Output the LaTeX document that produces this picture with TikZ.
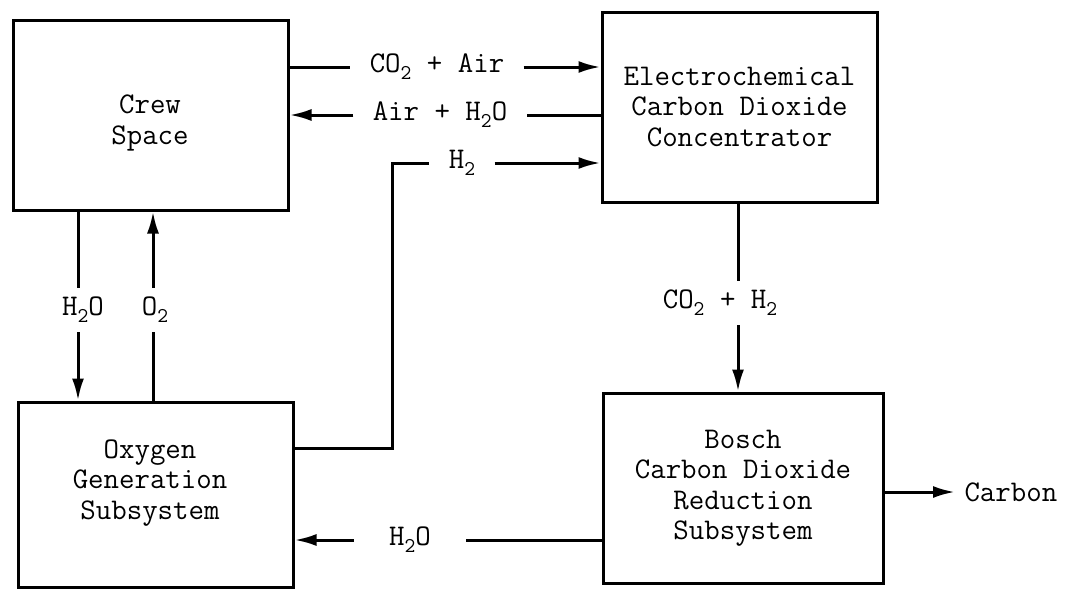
\documentclass[tikz,border=0pt]{standalone}
\usepackage{fontspec}
\usetikzlibrary{arrows.meta}
\newcommand\tw{\fontsize{30}{30.5}\selectfont\ttfamily}
\newcommand\sub[1]{\raisebox{-0.55ex}{\fontsize{21}{21}\selectfont #1}}
\begin{document}
\begin{tikzpicture}[x=1pt,y=-1pt,line width=3pt,
  box/.style={draw,line width=3pt,minimum width=275pt,minimum height=190pt,align=center,font=\tw,inner sep=0pt},
  txt/.style={align=center,font=\tw,inner sep=0pt},
  lab/.style={font=\tw,inner xsep=18pt,inner ysep=8pt},
  arr/.style={-{Latex[length=22pt,width=12pt]}}]
\useasboundingbox[fill=white] (0,0) rectangle (1066,589);
% boxes
\node[box] (crew) at (150.5,115) {};
\node[txt] (crewt) at (150,123) {Crew\\Space};
\node[box] (conc) at (739.5,107) {Electrochemical\\Carbon Dioxide\\Concentrator};
\node[box,minimum height=185pt] (oxy) at (155.5,494.5) {};
\node[txt] (oxyt) at (150,483) {Oxygen\\Generation\\Subsystem};
\node[box,minimum width=280pt] (bosch) at (743,488) {Bosch\\Carbon Dioxide\\Reduction\\Subsystem};
% helper coordinates
\coordinate (xa) at (78,0);
\coordinate (xb) at (153,0);
\coordinate (xc) at (738,0);
\coordinate (hx) at (392,0);
\coordinate (hy) at (0,448);
% labels
\node[lab] (l1) at (437,67) {CO\sub2 + Air};
\node[lab] (l2) at (440,115) {Air + H\sub2O};
\node[lab] (l3) at (462,163) {H\sub2};
\node[lab] (l4) at (83,310) {H\sub2O};
\node[lab] (l5) at (155,310) {O\sub2};
\node[lab] (l6) at (720,303) {CO\sub2 + H\sub2};
\node[lab,inner xsep=34pt] (l7) at (410,540) {H\sub2O};
\node[lab,anchor=west,inner xsep=8pt] (l8) at (955,492) {Carbon};
% connectors
\draw (crew.east |- l1) -- (l1.west);
\draw[arr] (l1.east) -- (conc.west |- l1);
\draw (conc.west |- l2) -- (l2.east);
\draw[arr] (l2.west) -- (crew.east |- l2);
\draw (oxy.east |- hy) -| (hx |- l3) -- (l3.west);
\draw[arr] (l3.east) -- (conc.west |- l3);
\draw (crew.south -| xa) -- (xa |- l4.north);
\draw[arr] (xa |- l4.south) -- (oxy.north -| xa);
\draw (oxy.north -| xb) -- (xb |- l5.south);
\draw[arr] (xb |- l5.north) -- (crew.south -| xb);
\draw (conc.south -| xc) -- (xc |- l6.north);
\draw[arr] (xc |- l6.south) -- (bosch.north -| xc);
\draw (bosch.west |- l7) -- (l7.east);
\draw[arr] (l7.west) -- (oxy.east |- l7);
\draw[arr] (bosch.east |- l8) -- (l8.west);
\end{tikzpicture}
\end{document}
